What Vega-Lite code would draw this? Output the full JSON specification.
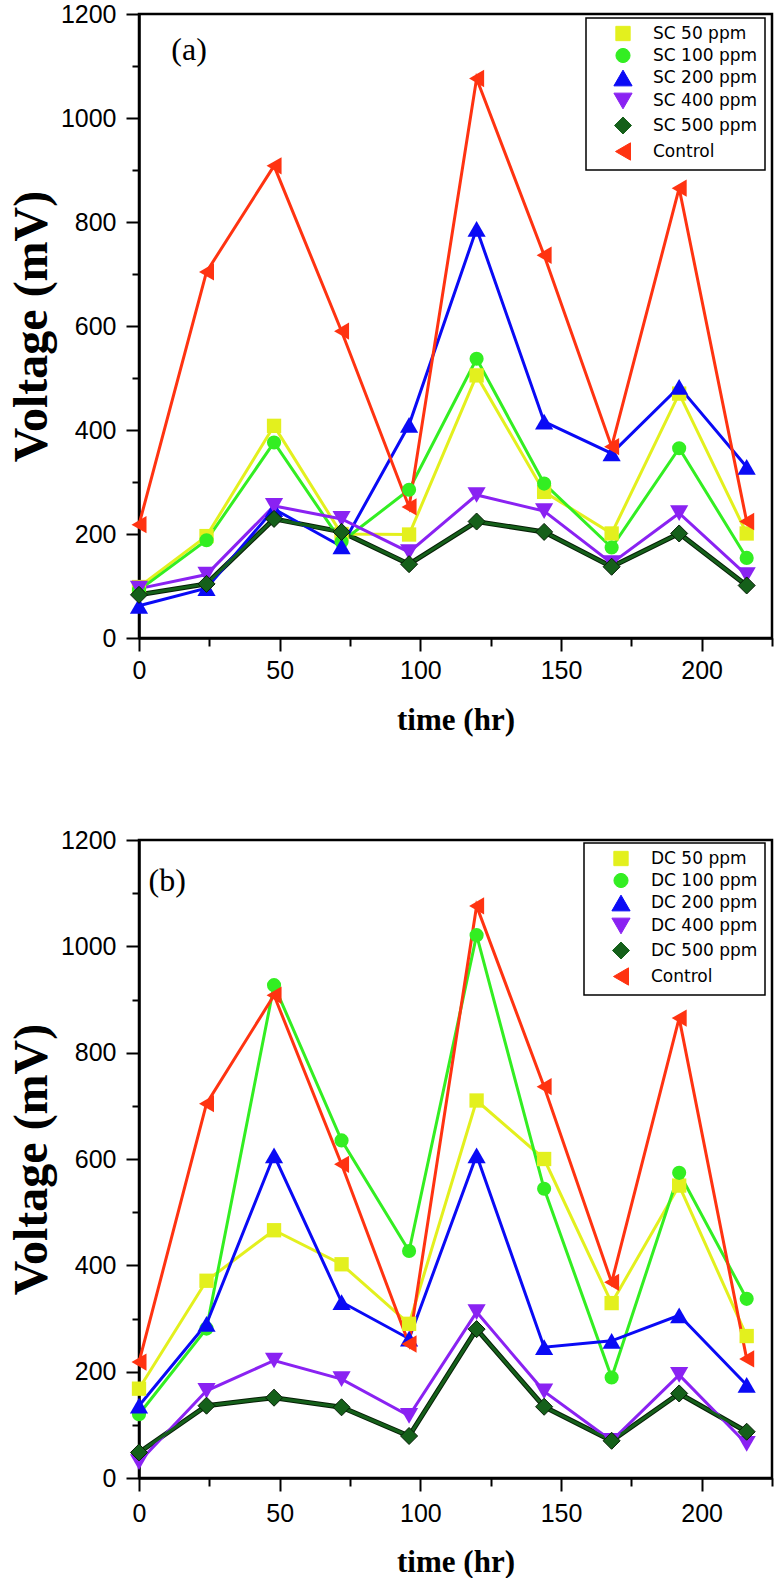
{
  "$schema": "https://vega.github.io/schema/vega-lite/v6.json",
  "background": "white",
  "padding": {"left": 7, "top": 0, "right": 0, "bottom": 0},
  "autosize": {"type": "pad"},
  "datasets": {
    "a": [
      {"series": "SC 50 ppm", "t": 0, "v": 98}, {"series": "SC 50 ppm", "t": 24, "v": 196}, {"series": "SC 50 ppm", "t": 48, "v": 408}, {"series": "SC 50 ppm", "t": 72, "v": 200}, {"series": "SC 50 ppm", "t": 96, "v": 199}, {"series": "SC 50 ppm", "t": 120, "v": 505}, {"series": "SC 50 ppm", "t": 144, "v": 281}, {"series": "SC 50 ppm", "t": 168, "v": 201}, {"series": "SC 50 ppm", "t": 192, "v": 470}, {"series": "SC 50 ppm", "t": 216, "v": 201},
      {"series": "SC 100 ppm", "t": 0, "v": 92}, {"series": "SC 100 ppm", "t": 24, "v": 188}, {"series": "SC 100 ppm", "t": 48, "v": 376}, {"series": "SC 100 ppm", "t": 72, "v": 185}, {"series": "SC 100 ppm", "t": 96, "v": 285}, {"series": "SC 100 ppm", "t": 120, "v": 537}, {"series": "SC 100 ppm", "t": 144, "v": 297}, {"series": "SC 100 ppm", "t": 168, "v": 174}, {"series": "SC 100 ppm", "t": 192, "v": 365}, {"series": "SC 100 ppm", "t": 216, "v": 154},
      {"series": "SC 200 ppm", "t": 0, "v": 62}, {"series": "SC 200 ppm", "t": 24, "v": 96}, {"series": "SC 200 ppm", "t": 48, "v": 248}, {"series": "SC 200 ppm", "t": 72, "v": 176}, {"series": "SC 200 ppm", "t": 96, "v": 410}, {"series": "SC 200 ppm", "t": 120, "v": 787}, {"series": "SC 200 ppm", "t": 144, "v": 416}, {"series": "SC 200 ppm", "t": 168, "v": 355}, {"series": "SC 200 ppm", "t": 192, "v": 483}, {"series": "SC 200 ppm", "t": 216, "v": 329},
      {"series": "SC 400 ppm", "t": 0, "v": 95}, {"series": "SC 400 ppm", "t": 24, "v": 122}, {"series": "SC 400 ppm", "t": 48, "v": 254}, {"series": "SC 400 ppm", "t": 72, "v": 229}, {"series": "SC 400 ppm", "t": 96, "v": 165}, {"series": "SC 400 ppm", "t": 120, "v": 275}, {"series": "SC 400 ppm", "t": 144, "v": 244}, {"series": "SC 400 ppm", "t": 168, "v": 144}, {"series": "SC 400 ppm", "t": 192, "v": 240}, {"series": "SC 400 ppm", "t": 216, "v": 121},
      {"series": "SC 500 ppm", "t": 0, "v": 83}, {"series": "SC 500 ppm", "t": 24, "v": 104}, {"series": "SC 500 ppm", "t": 48, "v": 229}, {"series": "SC 500 ppm", "t": 72, "v": 204}, {"series": "SC 500 ppm", "t": 96, "v": 142}, {"series": "SC 500 ppm", "t": 120, "v": 224}, {"series": "SC 500 ppm", "t": 144, "v": 204}, {"series": "SC 500 ppm", "t": 168, "v": 137}, {"series": "SC 500 ppm", "t": 192, "v": 201}, {"series": "SC 500 ppm", "t": 216, "v": 101},
      {"series": "Control", "t": 0, "v": 218}, {"series": "Control", "t": 24, "v": 704}, {"series": "Control", "t": 48, "v": 908}, {"series": "Control", "t": 72, "v": 590}, {"series": "Control", "t": 96, "v": 252}, {"series": "Control", "t": 120, "v": 1076}, {"series": "Control", "t": 144, "v": 736}, {"series": "Control", "t": 168, "v": 368}, {"series": "Control", "t": 192, "v": 865}, {"series": "Control", "t": 216, "v": 224}
    ],
    "b": [
      {"series": "DC 50 ppm", "t": 0, "v": 168}, {"series": "DC 50 ppm", "t": 24, "v": 371}, {"series": "DC 50 ppm", "t": 48, "v": 466}, {"series": "DC 50 ppm", "t": 72, "v": 402}, {"series": "DC 50 ppm", "t": 96, "v": 290}, {"series": "DC 50 ppm", "t": 120, "v": 710}, {"series": "DC 50 ppm", "t": 144, "v": 600}, {"series": "DC 50 ppm", "t": 168, "v": 329}, {"series": "DC 50 ppm", "t": 192, "v": 550}, {"series": "DC 50 ppm", "t": 216, "v": 267},
      {"series": "DC 100 ppm", "t": 0, "v": 120}, {"series": "DC 100 ppm", "t": 24, "v": 281}, {"series": "DC 100 ppm", "t": 48, "v": 927}, {"series": "DC 100 ppm", "t": 72, "v": 635}, {"series": "DC 100 ppm", "t": 96, "v": 427}, {"series": "DC 100 ppm", "t": 120, "v": 1021}, {"series": "DC 100 ppm", "t": 144, "v": 544}, {"series": "DC 100 ppm", "t": 168, "v": 189}, {"series": "DC 100 ppm", "t": 192, "v": 574}, {"series": "DC 100 ppm", "t": 216, "v": 337},
      {"series": "DC 200 ppm", "t": 0, "v": 136}, {"series": "DC 200 ppm", "t": 24, "v": 290}, {"series": "DC 200 ppm", "t": 48, "v": 607}, {"series": "DC 200 ppm", "t": 72, "v": 331}, {"series": "DC 200 ppm", "t": 96, "v": 262}, {"series": "DC 200 ppm", "t": 120, "v": 607}, {"series": "DC 200 ppm", "t": 144, "v": 246}, {"series": "DC 200 ppm", "t": 168, "v": 258}, {"series": "DC 200 ppm", "t": 192, "v": 306}, {"series": "DC 200 ppm", "t": 216, "v": 175},
      {"series": "DC 400 ppm", "t": 0, "v": 30}, {"series": "DC 400 ppm", "t": 24, "v": 164}, {"series": "DC 400 ppm", "t": 48, "v": 221}, {"series": "DC 400 ppm", "t": 72, "v": 186}, {"series": "DC 400 ppm", "t": 96, "v": 117}, {"series": "DC 400 ppm", "t": 120, "v": 312}, {"series": "DC 400 ppm", "t": 144, "v": 163}, {"series": "DC 400 ppm", "t": 168, "v": 70}, {"series": "DC 400 ppm", "t": 192, "v": 194}, {"series": "DC 400 ppm", "t": 216, "v": 64},
      {"series": "DC 500 ppm", "t": 0, "v": 48}, {"series": "DC 500 ppm", "t": 24, "v": 136}, {"series": "DC 500 ppm", "t": 48, "v": 151}, {"series": "DC 500 ppm", "t": 72, "v": 133}, {"series": "DC 500 ppm", "t": 96, "v": 79}, {"series": "DC 500 ppm", "t": 120, "v": 280}, {"series": "DC 500 ppm", "t": 144, "v": 134}, {"series": "DC 500 ppm", "t": 168, "v": 70}, {"series": "DC 500 ppm", "t": 192, "v": 159}, {"series": "DC 500 ppm", "t": 216, "v": 87},
      {"series": "Control", "t": 0, "v": 218}, {"series": "Control", "t": 24, "v": 704}, {"series": "Control", "t": 48, "v": 908}, {"series": "Control", "t": 72, "v": 590}, {"series": "Control", "t": 96, "v": 252}, {"series": "Control", "t": 120, "v": 1076}, {"series": "Control", "t": 144, "v": 736}, {"series": "Control", "t": 168, "v": 368}, {"series": "Control", "t": 192, "v": 865}, {"series": "Control", "t": 216, "v": 224}
    ]
  },
  "spacing": 89,
  "vconcat": [
    {
      "width": 633,
      "height": 624,
      "data": {"name": "a"},
      "encoding": {
        "x": {"field": "t", "type": "quantitative", "scale": {"domain": [0, 225], "nice": false, "zero": false},
          "axis": {"title": "time (hr)", "values": [0, 25, 50, 75, 100, 125, 150, 175, 200, 225], "format": "d",
            "labelExpr": "datum.value % 50 === 0 && datum.value < 225 ? datum.label : ''",
            "tickSize": {"condition": {"test": "datum.value % 50 === 0", "value": 13}, "value": 8},
            "labelPadding": 7, "titleFontSize": 31, "titlePadding": 22}},
        "y": {"field": "v", "type": "quantitative", "scale": {"domain": [0, 1200], "nice": false},
          "axis": {"title": "Voltage (mV)", "values": [0, 100, 200, 300, 400, 500, 600, 700, 800, 900, 1000, 1100, 1200], "format": "d",
            "labelExpr": "datum.value % 200 === 0 ? datum.label : ''",
            "tickSize": {"condition": {"test": "datum.value % 200 === 0", "value": 13}, "value": 7},
            "labelPadding": 10, "titleFontSize": 48, "titlePadding": 4}}
      },
      "layer": [
        {"transform": [{"filter": "datum.series === 'SC 500 ppm'"}],
          "mark": {"type": "line", "color": "#061f06", "strokeWidth": 5}, "encoding": {}},
        {"mark": {"type": "line", "strokeWidth": 3},
          "encoding": {"color": {"field": "series", "type": "nominal", "scale": {"domain": ["SC 50 ppm", "SC 100 ppm", "SC 200 ppm", "SC 400 ppm", "SC 500 ppm", "Control"], "range": ["#E3F01E", "#33EE22", "#0A0AF5", "#8A22F2", "#15601A", "#FF3311"]}}}},
        {"mark": {"type": "point", "filled": true, "opacity": 1, "strokeWidth": 1},
          "encoding": {
            "color": {"field": "series", "type": "nominal", "scale": {"domain": ["SC 50 ppm", "SC 100 ppm", "SC 200 ppm", "SC 400 ppm", "SC 500 ppm", "Control"], "range": ["#E3F01E", "#33EE22", "#0A0AF5", "#8A22F2", "#15601A", "#FF3311"]},
              "legend": {"title": null, "orient": "none", "legendX": 447, "legendY": 4,
                "encode": {"symbols": {
                  "shape": {"value": {"expr": "['M-0.8,-0.8H0.8V0.8H-0.8Z M-2.8,0H2.8','M-0.85,0A0.85,0.85,0,1,0,0.85,0A0.85,0.85,0,1,0,-0.85,0Z M-2.8,0H2.8','M0,-1L1.1,0.8H-1.1Z M-2.8,0H2.8','M0,1L1.1,-0.8H-1.1Z M-2.8,0H2.8','M0,-1.05L1.05,0L0,1.05L-1.05,0Z M-2.8,0H2.8','M-1,0L0.8,-1.1V1.1Z M-2.8,0H2.8'][indexof(['SC 50 ppm','SC 100 ppm','SC 200 ppm','SC 400 ppm','SC 500 ppm','Control'], datum.value)]"}},
                  "stroke": {"value": {"expr": "['#E3F01E','#33EE22','#0A0AF5','#8A22F2','#061f06','#FF3311'][indexof(['SC 50 ppm','SC 100 ppm','SC 200 ppm','SC 400 ppm','SC 500 ppm','Control'], datum.value)]"}},
                  "strokeWidth": {"value": 3}}}}},
            "shape": {"field": "series", "type": "nominal", "scale": {"domain": ["SC 50 ppm", "SC 100 ppm", "SC 200 ppm", "SC 400 ppm", "SC 500 ppm", "Control"], "range": ["square", "circle", "triangle-up", "triangle-down", "diamond", "triangle-left"]},
              "legend": {"title": null, "orient": "none", "legendX": 447, "legendY": 4,
                "encode": {"symbols": {
                  "shape": {"value": {"expr": "['M-0.8,-0.8H0.8V0.8H-0.8Z M-2.8,0H2.8','M-0.85,0A0.85,0.85,0,1,0,0.85,0A0.85,0.85,0,1,0,-0.85,0Z M-2.8,0H2.8','M0,-1L1.1,0.8H-1.1Z M-2.8,0H2.8','M0,1L1.1,-0.8H-1.1Z M-2.8,0H2.8','M0,-1.05L1.05,0L0,1.05L-1.05,0Z M-2.8,0H2.8','M-1,0L0.8,-1.1V1.1Z M-2.8,0H2.8'][indexof(['SC 50 ppm','SC 100 ppm','SC 200 ppm','SC 400 ppm','SC 500 ppm','Control'], datum.value)]"}},
                  "stroke": {"value": {"expr": "['#E3F01E','#33EE22','#0A0AF5','#8A22F2','#061f06','#FF3311'][indexof(['SC 50 ppm','SC 100 ppm','SC 200 ppm','SC 400 ppm','SC 500 ppm','Control'], datum.value)]"}},
                  "strokeWidth": {"value": 3}}}}},
            "size": {"field": "series", "type": "ordinal", "scale": {"type": "ordinal", "domain": ["SC 50 ppm", "SC 100 ppm", "SC 200 ppm", "SC 400 ppm", "SC 500 ppm", "Control"], "range": [205, 200, 330, 330, 290, 300]}, "legend": null},
            "stroke": {"condition": {"test": "datum.series === 'SC 500 ppm'", "value": "#061f06"}, "value": null}
          }},
        {"data": {"values": [{"label": "(a)", "t": 17.8, "v": 1130}]},
          "mark": {"type": "text", "font": "Liberation Serif", "fontSize": 32, "color": "black"},
          "encoding": {"text": {"field": "label", "type": "nominal"}}}
      ]
    },
    {
      "width": 633,
      "height": 638,
      "data": {"name": "b"},
      "encoding": {
        "x": {"field": "t", "type": "quantitative", "scale": {"domain": [0, 225], "nice": false, "zero": false},
          "axis": {"title": "time (hr)", "values": [0, 25, 50, 75, 100, 125, 150, 175, 200, 225], "format": "d",
            "labelExpr": "datum.value % 50 === 0 && datum.value < 225 ? datum.label : ''",
            "tickSize": {"condition": {"test": "datum.value % 50 === 0", "value": 13}, "value": 8},
            "labelPadding": 10, "titleFontSize": 31, "titlePadding": 21}},
        "y": {"field": "v", "type": "quantitative", "scale": {"domain": [0, 1200], "nice": false},
          "axis": {"title": "Voltage (mV)", "values": [0, 100, 200, 300, 400, 500, 600, 700, 800, 900, 1000, 1100, 1200], "format": "d",
            "labelExpr": "datum.value % 200 === 0 ? datum.label : ''",
            "tickSize": {"condition": {"test": "datum.value % 200 === 0", "value": 13}, "value": 7},
            "labelPadding": 10, "titleFontSize": 48, "titlePadding": 4}}
      },
      "layer": [
        {"transform": [{"filter": "datum.series === 'DC 500 ppm'"}],
          "mark": {"type": "line", "color": "#061f06", "strokeWidth": 5}, "encoding": {}},
        {"mark": {"type": "line", "strokeWidth": 3},
          "encoding": {"color": {"field": "series", "type": "nominal", "scale": {"domain": ["DC 50 ppm", "DC 100 ppm", "DC 200 ppm", "DC 400 ppm", "DC 500 ppm", "Control"], "range": ["#E3F01E", "#33EE22", "#0A0AF5", "#8A22F2", "#15601A", "#FF3311"]}}}},
        {"mark": {"type": "point", "filled": true, "opacity": 1, "strokeWidth": 1},
          "encoding": {
            "color": {"field": "series", "type": "nominal", "scale": {"domain": ["DC 50 ppm", "DC 100 ppm", "DC 200 ppm", "DC 400 ppm", "DC 500 ppm", "Control"], "range": ["#E3F01E", "#33EE22", "#0A0AF5", "#8A22F2", "#15601A", "#FF3311"]},
              "legend": {"title": null, "orient": "none", "legendX": 445, "legendY": 3,
                "encode": {"symbols": {
                  "shape": {"value": {"expr": "['M-0.8,-0.8H0.8V0.8H-0.8Z M-2.8,0H2.8','M-0.85,0A0.85,0.85,0,1,0,0.85,0A0.85,0.85,0,1,0,-0.85,0Z M-2.8,0H2.8','M0,-1L1.1,0.8H-1.1Z M-2.8,0H2.8','M0,1L1.1,-0.8H-1.1Z M-2.8,0H2.8','M0,-1.05L1.05,0L0,1.05L-1.05,0Z M-2.8,0H2.8','M-1,0L0.8,-1.1V1.1Z M-2.8,0H2.8'][indexof(['DC 50 ppm','DC 100 ppm','DC 200 ppm','DC 400 ppm','DC 500 ppm','Control'], datum.value)]"}},
                  "stroke": {"value": {"expr": "['#E3F01E','#33EE22','#0A0AF5','#8A22F2','#061f06','#FF3311'][indexof(['DC 50 ppm','DC 100 ppm','DC 200 ppm','DC 400 ppm','DC 500 ppm','Control'], datum.value)]"}},
                  "strokeWidth": {"value": 3}}}}},
            "shape": {"field": "series", "type": "nominal", "scale": {"domain": ["DC 50 ppm", "DC 100 ppm", "DC 200 ppm", "DC 400 ppm", "DC 500 ppm", "Control"], "range": ["square", "circle", "triangle-up", "triangle-down", "diamond", "triangle-left"]},
              "legend": {"title": null, "orient": "none", "legendX": 445, "legendY": 3,
                "encode": {"symbols": {
                  "shape": {"value": {"expr": "['M-0.8,-0.8H0.8V0.8H-0.8Z M-2.8,0H2.8','M-0.85,0A0.85,0.85,0,1,0,0.85,0A0.85,0.85,0,1,0,-0.85,0Z M-2.8,0H2.8','M0,-1L1.1,0.8H-1.1Z M-2.8,0H2.8','M0,1L1.1,-0.8H-1.1Z M-2.8,0H2.8','M0,-1.05L1.05,0L0,1.05L-1.05,0Z M-2.8,0H2.8','M-1,0L0.8,-1.1V1.1Z M-2.8,0H2.8'][indexof(['DC 50 ppm','DC 100 ppm','DC 200 ppm','DC 400 ppm','DC 500 ppm','Control'], datum.value)]"}},
                  "stroke": {"value": {"expr": "['#E3F01E','#33EE22','#0A0AF5','#8A22F2','#061f06','#FF3311'][indexof(['DC 50 ppm','DC 100 ppm','DC 200 ppm','DC 400 ppm','DC 500 ppm','Control'], datum.value)]"}},
                  "strokeWidth": {"value": 3}}}}},
            "size": {"field": "series", "type": "ordinal", "scale": {"type": "ordinal", "domain": ["DC 50 ppm", "DC 100 ppm", "DC 200 ppm", "DC 400 ppm", "DC 500 ppm", "Control"], "range": [205, 200, 330, 330, 290, 300]}, "legend": null},
            "stroke": {"condition": {"test": "datum.series === 'DC 500 ppm'", "value": "#061f06"}, "value": null}
          }},
        {"data": {"values": [{"label": "(b)", "t": 10, "v": 1123}]},
          "mark": {"type": "text", "font": "Liberation Serif", "fontSize": 32, "color": "black"},
          "encoding": {"text": {"field": "label", "type": "nominal"}}}
      ]
    }
  ],
  "resolve": {
    "scale": {"color": "independent", "shape": "independent", "size": "independent", "x": "independent", "y": "independent"}
  },
  "config": {
    "view": {"stroke": "black", "strokeWidth": 2.5},
    "axis": {"domainColor": "black", "domainWidth": 2.5, "tickColor": "black", "tickWidth": 2,
      "labelFont": "Liberation Sans", "labelFontSize": 25, "labelColor": "black",
      "titleFont": "Liberation Serif", "titleFontWeight": "bold", "titleColor": "black",
      "grid": false, "labelOverlap": false, "labelFlush": false, "labelBound": false},
    "legend": {"strokeColor": "black", "strokeWidth": 1.5, "fillColor": "white", "padding": 7, "cornerRadius": 0,
      "symbolSize": 256, "symbolStrokeWidth": 1, "symbolOffset": 20, "labelOffset": 20,
      "labelFont": "DejaVu Sans", "labelFontSize": 17, "labelColor": "black", "labelLimit": 300,
      "rowPadding": 3, "symbolOpacity": 1}
  }
}
